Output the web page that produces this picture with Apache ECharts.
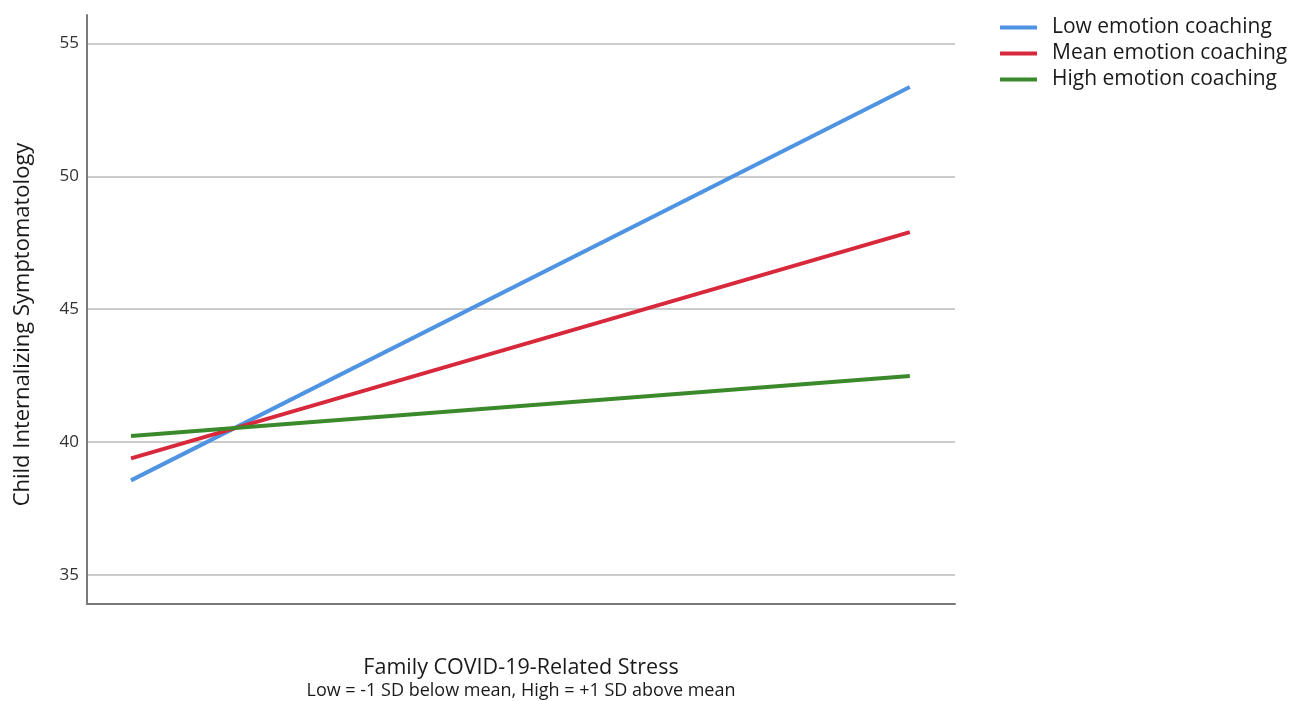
<!DOCTYPE html>
<html>
<head>
<meta charset="utf-8">
<script src="https://cdn.jsdelivr.net/npm/echarts@6/dist/echarts.min.js"></script>
<style>
  html, body { margin: 0; padding: 0; background: #fff; overflow: hidden; }
  #chart { width: 1299px; height: 701px; }
</style>
</head>
<body>
<div id="chart"></div>
<script>
// Stress level in SD units: Low = -1 SD, High = +1 SD
const stressLevels = [-1, 1];

// Predicted child internalizing symptomatology at each stress level
const lowCoaching = [38.56, 53.36];
const meanCoaching = [39.39, 47.9];
const highCoaching = [40.23, 42.49];

const seriesNames = ['Low emotion coaching', 'Mean emotion coaching', 'High emotion coaching'];
const yTicks = [35, 40, 45, 50, 55];

const colors = ['#4f94e2', '#d8283b', '#3a8a2b'];
const valueSets = [lowCoaching, meanCoaching, highCoaching];

const textFont = 'Open Sans';
const chart = echarts.init(document.getElementById('chart'));

chart.setOption({
  animation: false,
  backgroundColor: '#ffffff',
  grid: { left: 87, right: 344, top: 15, bottom: 97, outerBoundsMode: 'none' },
  legend: {
    orient: 'vertical',
    left: 995,
    top: 12,
    icon: 'rect',
    itemWidth: 37,
    itemHeight: 4,
    itemGap: 5,
    textStyle: { fontFamily: textFont, fontSize: 21, color: '#1a1a1a', lineHeight: 21, padding: [0, 0, 0, 10] },
    data: seriesNames
  },
  xAxis: {
    type: 'value',
    min: -1.113,
    max: 1.116,
    axisLine: { show: true, onZero: false, lineStyle: { color: '#7a7a7a', width: 2 } },
    axisTick: { show: false },
    axisLabel: { show: false },
    splitLine: { show: false },
    name: '{a|Family COVID-19-Related Stress}\n{b|Low = -1 SD below mean, High = +1 SD above mean}',
    nameLocation: 'middle',
    nameGap: 51,
    nameTextStyle: {
      rich: {
        a: { fontFamily: textFont, fontSize: 21.5, color: '#1a1a1a', lineHeight: 26 },
        b: { fontFamily: textFont, fontSize: 18, color: '#1a1a1a', lineHeight: 20 }
      }
    }
  },
  yAxis: {
    type: 'value',
    min: 33.91,
    max: 56.07,
    axisLine: { show: true, onZero: false, lineStyle: { color: '#7a7a7a', width: 2 } },
    axisTick: { show: false, customValues: yTicks },
    axisLabel: { customValues: yTicks, fontFamily: textFont, fontSize: 17, color: '#333', margin: 8 },
    splitLine: { show: true, lineStyle: { color: '#cccccc', width: 2 } },
    name: 'Child Internalizing Symptomatology',
    nameLocation: 'middle',
    nameRotate: 90,
    nameGap: 53,
    nameTextStyle: { fontFamily: textFont, fontSize: 22, color: '#1a1a1a', padding: [0, 30, 0, 0] }
  },
  series: valueSets.map((vals, i) => ({
    name: seriesNames[i],
    type: 'line',
    showSymbol: false,
    symbol: 'none',
    color: colors[i],
    lineStyle: { width: 4, color: colors[i] },
    data: stressLevels.map((x, j) => [x, vals[j]])
  }))
});
</script>
</body>
</html>
